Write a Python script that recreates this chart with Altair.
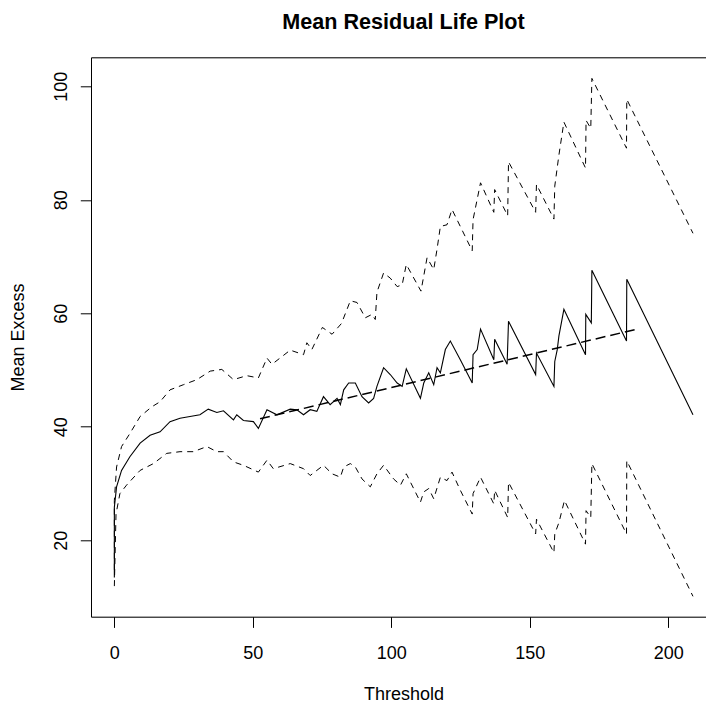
import altair as alt
import pandas as pd

# ---- data ----
mean_x = [0, 0, 0.8, 2.6, 5.6, 9.3, 12.9, 16.5, 20.1, 23.7, 27.3, 30.9, 33.9, 37.0, 39.4,
          43.0, 44.2, 46.6, 50.2, 52.0, 55.1, 58.7, 63.5, 65.9, 68.3, 70.7, 73.1, 75.5,
          77.9, 80.4, 81.6, 82.8, 84.6, 87.0, 89.4, 91.8, 93.6, 94.8, 97.2, 99.6, 102.1,
          103.9, 105.4, 110.5, 111.7, 113.5, 115.3, 116.5, 117.7, 119.5, 121.3, 124.9,
          129.2, 129.5, 131.0, 132.2, 137.0, 137.3, 141.8, 142.3, 152.1, 152.4, 158.7,
          159.0, 159.9, 160.5, 162.3, 170.1, 170.2, 172.2, 172.4, 184.9, 185.0, 208.9]
mean_y = [13.4, 25.8, 29.4, 32.3, 34.7, 37.1, 38.5, 39.1, 40.9, 41.5, 41.8, 42.1, 43.1, 42.5, 42.8,
          41.2, 42.1, 41.1, 40.9, 39.7, 43.0, 42.1, 43.1, 43.0, 42.1, 43.0, 42.7, 45.3,
          43.9, 45.0, 43.9, 46.5, 47.7, 47.7, 45.3, 44.2, 45.0, 47.1, 50.4, 49.2, 47.7,
          47.1, 50.2, 45.0, 47.7, 49.5, 47.4, 50.4, 49.5, 53.6, 55.1, 51.8,
          47.7, 52.7, 53.6, 57.2, 51.8, 55.4, 51.0, 58.6, 49.2, 53.0, 47.1,
          51.5, 53.6, 56.0, 60.7, 52.7, 59.8, 58.3, 67.6, 55.1, 66.0, 42.1]

upper_x = [0, 0, 0.8, 2.6, 5.6, 9.3, 13.5, 16.5, 20.1, 24.9, 29.8, 34.6, 38.8, 43.0, 47.8,
           52.0, 55.1, 56.9, 63.5, 68.3, 69.5, 71.3, 75.1, 78.6, 82.0, 85.2, 87.6, 90.6,
           93.0, 94.2, 94.8, 97.2, 99.6, 102.1, 103.9, 105.4, 110.7, 112.9, 115.3, 116.5,
           117.7, 120.1, 121.9, 124.9, 129.2, 129.5, 132.2, 137.0, 137.3, 142.0, 142.3,
           152.1, 152.4, 158.7, 159.0, 160.5, 162.3, 170.1, 170.3, 172.0, 172.4, 184.9,
           185.0, 208.9]
upper_y = [14.8, 27.0, 32.9, 36.5, 38.8, 41.8, 43.5, 44.4, 46.5, 47.4, 48.3, 49.8, 50.1, 48.3, 49.0,
           48.6, 52.1, 51.0, 53.5, 52.7, 54.8, 53.6, 57.5, 56.3, 58.2, 62.2, 61.9, 59.2,
           59.8, 58.9, 63.7, 67.1, 66.2, 64.7, 65.0, 68.6, 63.9, 69.8, 67.7, 71.3,
           75.3, 75.6, 78.3, 75.3, 71.0, 76.5, 83.0, 77.8, 81.8, 77.2, 86.7,
           77.8, 82.7, 76.6, 82.4, 87.9, 93.7, 85.6, 94.0, 92.6, 101.4, 89.1,
           97.7, 74.1]

lower_x = [0, 0.6, 2.0, 4.4, 9.3, 14.1, 18.9, 23.7, 28.5, 33.4, 37.0, 39.4, 43.0, 46.6,
           52.0, 55.1, 57.4, 63.5, 68.3, 70.7, 75.5, 78.6, 81.6, 82.8, 85.2, 87.0, 89.4,
           92.4, 94.8, 97.2, 100.8, 103.3, 105.4, 110.5, 111.7, 113.5, 115.3, 117.7,
           120.1, 121.9, 124.9, 129.2, 129.5, 132.2, 137.0, 137.3, 142.0, 142.3, 152.1,
           152.4, 158.7, 159.0, 160.5, 162.5, 170.1, 170.3, 172.0, 172.4, 184.9, 185.0,
           208.9]
lower_y = [11.9, 24.6, 28.2, 29.7, 32.3, 33.5, 35.3, 35.6, 35.6, 36.5, 35.6, 35.6, 33.8, 33.2,
           32.0, 34.1, 32.6, 33.5, 32.6, 31.4, 33.2, 31.7, 31.1, 32.9, 33.5, 32.9, 30.8,
           29.4, 31.7, 33.2, 30.8, 29.7, 31.7, 26.7, 28.5, 29.1, 27.3, 31.1,
           30.5, 32.0, 28.8, 24.6, 28.2, 31.1, 26.4, 28.8, 24.0, 30.2, 21.1,
           23.7, 17.8, 21.1, 23.1, 27.0, 19.3, 25.2, 24.0, 33.5, 21.1, 34.0,
           10.1]

fit_x = [52.6, 188.6]
fit_y = [41.4, 57.2]

x_ticks = [0, 50, 100, 150, 200]
y_ticks = [20, 40, 60, 80, 100]

X_DOMAIN = [-8.43, 213.6]
Y_DOMAIN = [6.51, 105.12]
FONT = "Liberation Sans"


def frame(xs, ys):
    return pd.DataFrame({"x": xs, "y": ys, "i": list(range(len(xs)))})


xs = alt.Scale(domain=X_DOMAIN, nice=False, zero=False)
ys = alt.Scale(domain=Y_DOMAIN, nice=False, zero=False)

x_axis = alt.Axis(
    values=x_ticks, orient="bottom", grid=False,
    domain=True, domainColor="black", domainWidth=1,
    ticks=True, tickColor="black", tickWidth=1, tickSize=10.7,
    labelFont=FONT, labelFontSize=18, labelColor="black",
    labelBaseline="alphabetic", labelAlign="center", labelPadding=30.9,
    labelFlush=False, labelOverlap=False,
    title="Threshold", titleFont=FONT, titleFontSize=18, titleFontWeight="normal",
    titleColor="black", titleX=312.5, titleY=82.3, titleBaseline="alphabetic",
    titleAlign="center",
)
y_axis = alt.Axis(
    values=y_ticks, orient="left", grid=False,
    domain=True, domainColor="black", domainWidth=1,
    ticks=True, tickColor="black", tickWidth=1, tickSize=10.7,
    labelFont=FONT, labelFontSize=18, labelColor="black",
    labelAngle=270, labelAlign="center", labelBaseline="alphabetic", labelPadding=13.6,
    labelOverlap=False,
    title="Mean Excess", titleFont=FONT, titleFontSize=18, titleFontWeight="normal",
    titleColor="black", titleAngle=270, titleX=-67.7, titleY=279.7,
    titleBaseline="alphabetic", titleAlign="center",
)
top_axis = alt.Axis(orient="top", grid=False, domain=True, domainColor="black",
                    domainWidth=1, ticks=False, labels=False, title=None,
                    minExtent=0, maxExtent=0)


def series(df, xaxis, **mark):
    return alt.Chart(df).mark_line(color="black", **mark).encode(
        x=alt.X("x:Q", scale=xs, axis=xaxis),
        y=alt.Y("y:Q", scale=ys, axis=y_axis),
        order="i:Q",
    )


center = series(frame(mean_x, mean_y), x_axis, strokeWidth=1.1)
upper = series(frame(upper_x, upper_y), None, strokeWidth=1, strokeDash=[6, 5])
lower = series(frame(lower_x, lower_y), None, strokeWidth=1, strokeDash=[6, 5])
fit = series(frame(fit_x, fit_y), top_axis, strokeWidth=1.5, strokeDash=[10, 5])

chart = (
    alt.layer(upper, lower, fit, center)
    .resolve_axis(x="independent")
    .properties(
        width=615, height=559.4,
        title=alt.TitleParams(
            "Mean Residual Life Plot", font=FONT, fontSize=21.6, fontWeight="bold",
            color="black", anchor="middle", frame="group", baseline="alphabetic",
            offset=30.6, dx=5, dy=24,
        ),
        autosize=alt.AutoSizeParams(type="none"),
        padding={"left": 91, "top": 57.3, "right": 0, "bottom": 90.3},
    )
    .configure_view(stroke=None)
    .configure(background="white")
)

chart.save("out.html", embed_options={"renderer": "svg", "actions": False})
